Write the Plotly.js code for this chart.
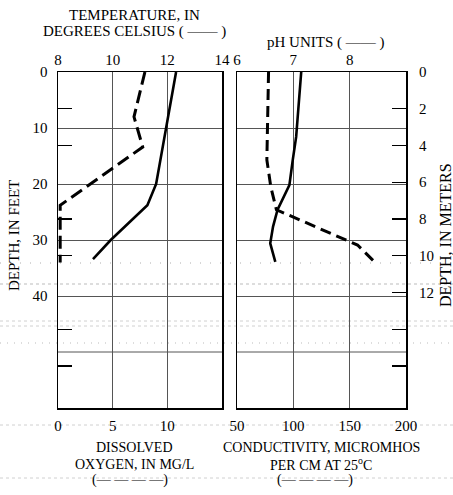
<!DOCTYPE html>
<html>
<head>
<meta charset="utf-8">
<script src="https://cdn.plot.ly/plotly-3.0.1.min.js"></script>
<style>html,body{margin:0;padding:0;background:#fff;}#chart{width:453px;height:495px;}</style>
</head>
<body>
<div id="chart"></div>
<script>
// ---- data ----
var tempDepth = [0, 10, 20, 23.8, 30, 33.4];
var tempVals  = [12.32, 11.96, 11.59, 11.27, 9.93, 9.28];

var doDepth = [0, 8, 13.4, 23.8, 24.6, 34];
var doVals  = [7.95, 6.95, 7.75, 0.2, 0.2, 0.2];

var phDepth = [0, 11.6, 15.7, 20.2, 24.6, 27.6, 30.6, 33.9];
var phVals  = [7.14, 7.05, 6.99, 6.93, 6.72, 6.64, 6.59, 6.68];

var condDepth = [0, 10, 15.7, 20.5, 24.6, 30.9, 33.9];
var condVals  = [78, 77, 76.5, 80, 85, 157, 172];

var feetTicks = [0, 10, 20, 30, 40];
var extraFeetGrid = [50];
var meterTicks = [0, 2, 4, 6, 8, 10, 12];
var extraMeterTicks = [14, 16];
var leftMeterTicks = [2, 4, 8, 10, 14, 16];
var tempTicks = [8, 10, 12, 14];
var phTicks = [6, 7, 8];
var doTicks = [0, 5, 10];
var condTicks = [50, 100, 150, 200];

// ---- layout geometry ----
var W = 453, H = 495, L = 58, R = 47, T = 72, B = 87;
var pw = W - L - R, ph = H - T - B;
function px(x) { return (x - L) / pw; }
function py(y) { return (H - B - y) / ph; }

var FONT = 'Liberation Serif, Times New Roman, serif';
var gridc = '#555';
var maxFeet = 60;
var maxMeters = maxFeet / 3.2808;

var leftDom = [0, px(222)];
var rightDom = [px(237), 1];

var traces = [
  {x: tempVals, y: tempDepth, xaxis: 'x', yaxis: 'y', mode: 'lines',
   line: {color: '#000', width: 2.6}, hoverinfo: 'skip'},
  {x: doVals, y: doDepth, xaxis: 'x3', yaxis: 'y', mode: 'lines',
   line: {color: '#000', width: 3, dash: '13px,6px'}, hoverinfo: 'skip'},
  {x: phVals, y: phDepth, xaxis: 'x2', yaxis: 'y2', mode: 'lines',
   line: {color: '#000', width: 2.6}, hoverinfo: 'skip'},
  {x: condVals, y: condDepth, xaxis: 'x4', yaxis: 'y2', mode: 'lines',
   line: {color: '#000', width: 3, dash: '11px,6px'}, hoverinfo: 'skip'},
  // carriers for the meter axes
  {x: [7.5], y: [0], xaxis: 'x2', yaxis: 'y3', mode: 'markers', marker: {opacity: 0}, hoverinfo: 'skip'},
  {x: [11], y: [0], xaxis: 'x', yaxis: 'y4', mode: 'markers', marker: {opacity: 0}, hoverinfo: 'skip'},
  {x: [7.5], y: [0], xaxis: 'x2', yaxis: 'y5', mode: 'markers', marker: {opacity: 0}, hoverinfo: 'skip'}
];

var tickFont = {family: FONT, size: 15, color: '#000'};
var frame = {showline: true, mirror: true, linecolor: '#000', linewidth: 1.5, zeroline: false};

function dotted(y, dash, color) {
  return {type: 'line', xref: 'paper', yref: 'paper', x0: px(0), x1: px(W), y0: py(y), y1: py(y),
          line: {color: color || '#bbb', width: 0.8, dash: dash || 'dot'}, layer: 'below'};
}
function label(text, x, y, size, angle) {
  return {text: text, xref: 'paper', yref: 'paper', x: px(x), y: py(y),
          xanchor: 'center', yanchor: 'middle', showarrow: false, textangle: angle || 0,
          font: {family: FONT, size: size || 15, color: '#000'}};
}
var shapes = [
  dotted(263, '1px,9px', '#999'),
  dotted(284, 'dot', '#aaa'),
  dotted(321, 'dot', '#c4c4c4'),
  dotted(326, 'dot', '#c4c4c4'),
  dotted(343, '1px,6px', '#aaa'),
  dotted(425, 'dot', '#c4c4c4'),
  dotted(478, 'dot', '#c4c4c4')
];
extraFeetGrid.forEach(function (d) {
  shapes.push({type: 'line', xref: 'x domain', yref: 'y', x0: 0, x1: 1, y0: d, y1: d,
               line: {color: gridc, width: 1}, layer: 'below'});
  shapes.push({type: 'line', xref: 'x2 domain', yref: 'y2', x0: 0, x1: 1, y0: d, y1: d,
               line: {color: gridc, width: 1}, layer: 'below'});
});

var layout = {
  width: W, height: H,
  margin: {l: L, r: R, t: T, b: B, pad: 0},
  paper_bgcolor: '#fff', plot_bgcolor: 'rgba(0,0,0,0)',
  showlegend: false,
  font: {family: FONT, color: '#000'},
  xaxis: Object.assign({domain: leftDom, anchor: 'y', side: 'top', range: [8, 14], autorange: false,
    tickmode: 'array', tickvals: tempTicks, ticks: '', ticklabelstandoff: 0, tickfont: tickFont,
    showgrid: true, gridcolor: gridc, gridwidth: 1}, frame),
  xaxis2: Object.assign({domain: rightDom, anchor: 'y2', side: 'top', range: [6, 9], autorange: false,
    tickmode: 'array', tickvals: phTicks, ticks: '', ticklabelstandoff: 0, tickfont: tickFont,
    showgrid: true, gridcolor: gridc, gridwidth: 1}, frame),
  xaxis3: {overlaying: 'x', anchor: 'y', side: 'bottom', range: [0, 15], autorange: false,
    tickmode: 'array', tickvals: doTicks, ticks: '', ticklabelstandoff: 7, tickfont: tickFont,
    showgrid: false, showline: false, zeroline: false},
  xaxis4: {overlaying: 'x2', anchor: 'y2', side: 'bottom', range: [50, 200], autorange: false,
    tickmode: 'array', tickvals: condTicks, ticks: '', ticklabelstandoff: 7, tickfont: tickFont,
    showgrid: false, showline: false, zeroline: false},
  yaxis: Object.assign({domain: [0, 1], anchor: 'x', range: [maxFeet, 0], autorange: false,
    tickmode: 'array', tickvals: feetTicks, ticks: '', ticklabelstandoff: 6,
    tickfont: tickFont, showgrid: true, gridcolor: gridc, gridwidth: 1}, frame),
  yaxis2: Object.assign({domain: [0, 1], anchor: 'x2', range: [maxFeet, 0], autorange: false,
    tickmode: 'array', tickvals: feetTicks, showticklabels: false, ticks: '',
    showgrid: true, gridcolor: gridc, gridwidth: 1}, frame),
  yaxis3: {overlaying: 'y2', anchor: 'x2', side: 'right', range: [maxMeters, 0], autorange: false,
    tickmode: 'array', tickvals: meterTicks, ticks: 'inside', ticklen: 14,
    tickwidth: 1.2, tickcolor: '#000', ticklabelstandoff: 12, tickfont: tickFont,
    showgrid: false, showline: false, zeroline: false},
  yaxis5: {overlaying: 'y2', anchor: 'x2', side: 'right', range: [maxMeters, 0], autorange: false,
    tickmode: 'array', tickvals: extraMeterTicks, ticks: 'inside', ticklen: 14,
    tickwidth: 1.2, tickcolor: '#000', showticklabels: false,
    showgrid: false, showline: false, zeroline: false},
  yaxis4: {overlaying: 'y', anchor: 'x', side: 'left', range: [maxMeters, 0], autorange: false,
    tickmode: 'array', tickvals: leftMeterTicks, ticks: 'inside', ticklen: 14,
    tickwidth: 1.2, tickcolor: '#000', showticklabels: false,
    showgrid: false, showline: false, zeroline: false},
  shapes: shapes,
  annotations: [
    label('TEMPERATURE, IN', 134, 15),
    label('DEGREES CELSIUS ( —— )', 134, 32),
    label('pH UNITS ( —— )', 326, 42),
    label('DEPTH, IN FEET', 14, 235, 15, -90),
    label('DEPTH, IN METERS', 445, 235, 16, -90),
    label('DISSOLVED', 134, 447, 14),
    label('OXYGEN, IN MG/L', 134, 464, 14),
    label('(— — — —)', 130, 480, 14),
    label('CONDUCTIVITY, MICROMHOS', 321, 447, 14),
    label('PER CM AT 25<sup>o</sup>C', 321, 464, 14),
    label('(— — — —)', 315, 480, 14)
  ]
};

Plotly.newPlot('chart', traces, layout, {staticPlot: true, displayModeBar: false});
</script>
</body>
</html>
